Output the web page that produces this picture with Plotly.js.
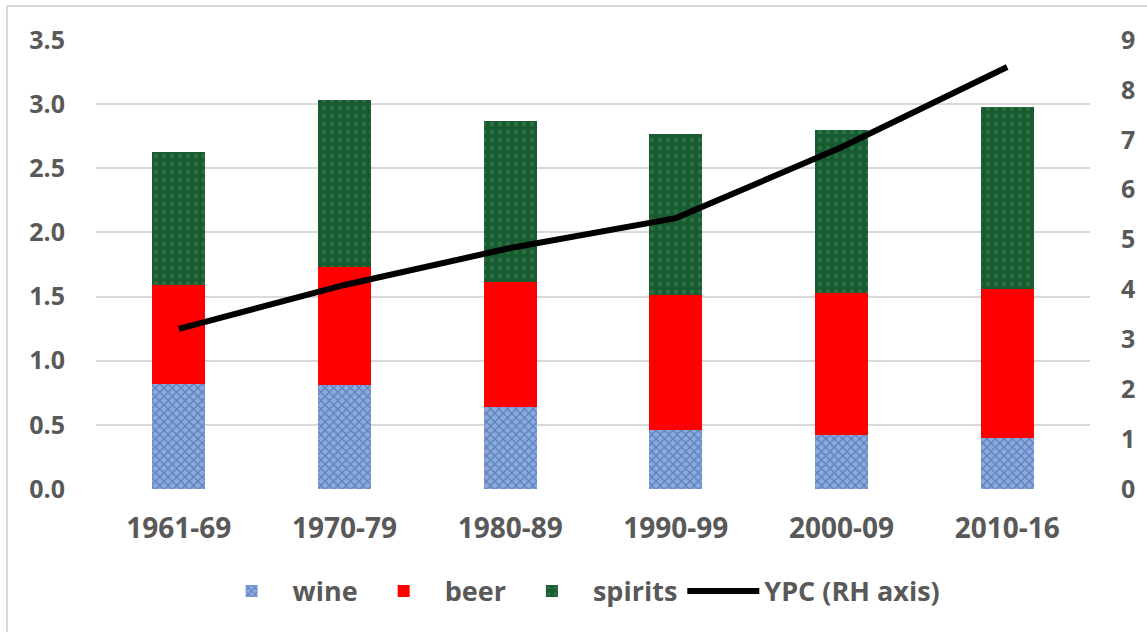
<!DOCTYPE html>
<html>
<head>
<meta charset="utf-8">
<script src="https://cdn.plot.ly/plotly-3.0.1.min.js"></script>
<style>
html,body{margin:0;padding:0;background:#fff;}
#chart{width:1147px;height:632px;}
</style>
</head>
<body>
<div id="chart"></div>
<script>
const categories = ["1961-69","1970-79","1980-89","1990-99","2000-09","2010-16"];
const wine    = [0.82, 0.81, 0.64, 0.46, 0.42, 0.40];
const beer    = [0.77, 0.92, 0.97, 1.05, 1.11, 1.16];
const spirits = [1.04, 1.30, 1.26, 1.26, 1.27, 1.42];
const ypc     = [3.21, 4.09, 4.83, 5.43, 6.85, 8.46];

const fontFam = "Open Sans, Noto Sans, sans-serif";
const txtColor = "#595959";

const traces = [
  {type:"bar", name:"wine", x:categories, y:wine, width:0.32,
   marker:{color:"#7f9fd6", line:{width:0},
     pattern:{shape:"x", bgcolor:"#8aaae0", fgcolor:"#34558f", size:6, solidity:0.4, fillmode:"overlay"}}},
  {type:"bar", name:"beer", x:categories, y:beer, width:0.32,
   marker:{color:"#ff0000", line:{width:0}}},
  {type:"bar", name:"spirits", x:categories, y:spirits, width:0.32,
   marker:{color:"#1e6b3b", line:{width:0},
     pattern:{shape:".", bgcolor:"#185a30", fgcolor:"#3a8452", size:8, solidity:0.3, fillmode:"overlay"}}},
  {type:"scatter", mode:"lines", name:"YPC (RH axis)", x:categories, y:ypc, yaxis:"y2",
   line:{color:"#000000", width:6}}
];

const X = px => (px-96)/994;
const Y = py => (489-py)/449;

const layout = {
  width:1147, height:632,
  margin:{l:96, r:57, t:40, b:143},
  barmode:"stack",
  paper_bgcolor:"#ffffff", plot_bgcolor:"#ffffff",
  font:{family:fontFam, color:txtColor, size:22},
  showlegend:true,
  legend:{orientation:"h", x:0.485, xanchor:"center", y:-0.228, yanchor:"middle",
    font:{family:fontFam, size:27, color:txtColor, weight:"bold"}, itemwidth:72, traceorder:"normal"},
  xaxis:{type:"category", showgrid:false, zeroline:false, showline:false, ticks:"",
    tickfont:{family:fontFam, size:28, color:txtColor, weight:"bold"}, ticklabelstandoff:20},
  yaxis:{range:[0,3.5], dtick:0.5, tickformat:".1f", showgrid:true, gridcolor:"#d9d9d9", gridwidth:2,
    zeroline:false, showline:false, ticks:"",
    tickfont:{family:fontFam, size:25, color:txtColor, weight:"bold"}, ticklabelstandoff:30},
  yaxis2:{range:[0,9], dtick:1, overlaying:"y", side:"right", showgrid:false, zeroline:false,
    showline:false, ticks:"",
    tickfont:{family:fontFam, size:25, color:txtColor, weight:"bold"}, ticklabelstandoff:30},
  shapes:[
    {type:"line", xref:"paper", yref:"paper", x0:X(7), x1:X(7), y0:Y(640), y1:Y(6),
     line:{color:"#d9d9d9", width:2}, layer:"below"},
    {type:"line", xref:"paper", yref:"paper", x0:X(7), x1:X(1150), y0:Y(6), y1:Y(6),
     line:{color:"#d9d9d9", width:2}, layer:"below"}
  ]
};

Plotly.newPlot("chart", traces, layout, {displayModeBar:false, staticPlot:true});
</script>
</body>
</html>
